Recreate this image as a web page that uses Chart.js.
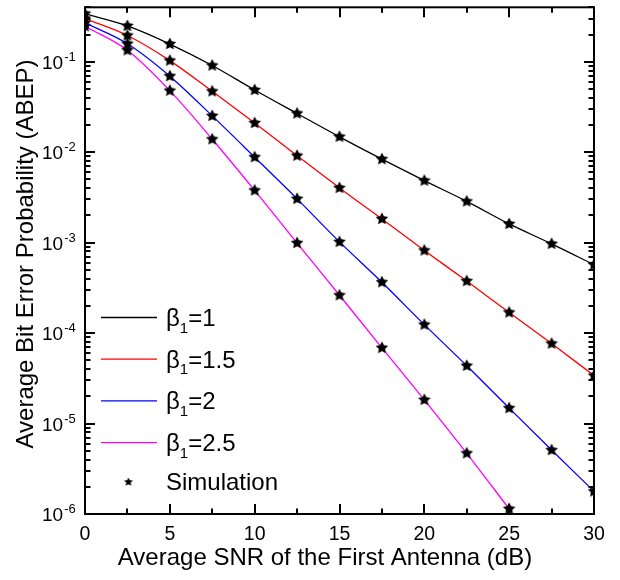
<!DOCTYPE html>
<html>
<head>
<meta charset="utf-8">
<script src="https://cdn.jsdelivr.net/npm/chart.js@4/dist/chart.umd.min.js"></script>
<style>
  html, body { margin: 0; padding: 0; background: #fff; }
  #wrap { width: 620px; height: 580px; position: relative; }
</style>
</head>
<body>
<div id="wrap"><canvas id="abep-chart"></canvas></div>
<script>
// SNR sweep (dB) and ABEP for each beta_1
const snrDb = [0, 2.5, 5, 7.5, 10, 12.5, 15, 17.5, 20, 22.5, 25, 27.5, 30];
const abepBeta1 = [0.34, 0.249, 0.157, 0.0909, 0.0487, 0.0268, 0.0148, 0.00838, 0.00485, 0.00286, 0.00161, 0.00097, 0.00057];
const abepBeta15 = [0.30, 0.195, 0.103, 0.0471, 0.0210, 0.00915, 0.00403, 0.00183, 0.00082, 0.000376, 0.000169, 0.0000766, 0.0000339];
const abepBeta2 = [0.269, 0.158, 0.0693, 0.0252, 0.00881, 0.00305, 0.00102, 0.000365, 0.000124, 0.0000435, 0.0000148, 0.00000509, 0.00000178];
const abepBeta25 = [0.247, 0.134, 0.0479, 0.0139, 0.00378, 0.00099, 0.000262, 0.0000687, 0.0000183, 0.00000469, 0.00000114];

const betaLabels = ["1", "1.5", "2", "2.5"];
const seriesColors = ["#000000", "#ff0000", "#0000ff", "#ff00ff"];
const xTickValues = [0, 5, 10, 15, 20, 25, 30];
const yDecades = [-6, -5, -4, -3, -2, -1];

const FONT = '"Liberation Sans", Arial, Helvetica, sans-serif';

function makeStar(r) {
    const c = document.createElement("canvas");
    const s = Math.ceil(r * 2 + 2);
    c.width = s;
    c.height = s;
    const g = c.getContext("2d");
    g.translate(s / 2, s / 2);
    g.beginPath();
    for (let i = 0; i < 10; i++) {
        const rad = i % 2 ? r * 0.5 : r;
        const a = -Math.PI / 2 + i * Math.PI / 5;
        g.lineTo(rad * Math.cos(a), rad * Math.sin(a));
    }
    g.closePath();
    g.fillStyle = "#000";
    g.fill();
    return c;
}

const starBig = makeStar(6.6);
const starSmall = makeStar(4.6);

function toPoints(ys) {
    return ys.map((y, i) => ({ x: snrDb[i], y }));
}

const allSeries = [abepBeta1, abepBeta15, abepBeta2, abepBeta25];

const datasets = allSeries.map((ys, i) => ({
    label: "beta1=" + betaLabels[i],
    data: toPoints(ys),
    borderColor: seriesColors[i],
    backgroundColor: seriesColors[i],
    borderWidth: 1.3,
    cubicInterpolationMode: "monotone",
    pointStyle: starBig,
    pointRadius: 6,
    clip: 0,
}));

// frame, inward ticks, tick labels, axis titles and legend
const axesPlugin = {
    id: "axesFrame",
    afterDraw(chart) {
        const ctx = chart.ctx;
        const area = chart.chartArea;
        const xs = chart.scales.x;
        const ys = chart.scales.y;
        ctx.save();
        ctx.strokeStyle = "#000";
        ctx.fillStyle = "#000";

        // ticks
        ctx.lineWidth = 2;
        ctx.beginPath();
        for (let v = 0; v <= 30; v += 2.5) {
            const px = Math.round(xs.getPixelForValue(v));
            const len = v % 5 === 0 ? 10 : 5.5;
            ctx.moveTo(px, area.bottom);
            ctx.lineTo(px, area.bottom - len);
            ctx.moveTo(px, area.top);
            ctx.lineTo(px, area.top + len);
        }
        for (let e = -6; e <= -1; e++) {
            for (let k = 1; k <= 9; k++) {
                const v = k * Math.pow(10, e);
                if (v > ys.max) continue;
                const py = Math.round(ys.getPixelForValue(v));
                const len = k === 1 ? 10 : 5.5;
                ctx.moveTo(area.left, py);
                ctx.lineTo(area.left + len, py);
                ctx.moveTo(area.right, py);
                ctx.lineTo(area.right - len, py);
            }
        }
        ctx.stroke();

        // frame
        ctx.lineWidth = 2;
        ctx.strokeRect(area.left, area.top, area.right - area.left, area.bottom - area.top);

        // x tick labels
        ctx.font = "19.5px " + FONT;
        ctx.textAlign = "center";
        ctx.textBaseline = "alphabetic";
        xTickValues.forEach((v) => {
            ctx.fillText(String(v), xs.getPixelForValue(v), 540);
        });

        // y tick labels 10^n
        ctx.textAlign = "left";
        yDecades.forEach((e) => {
            const py = ys.getPixelForValue(Math.pow(10, e));
            ctx.font = "19px " + FONT;
            ctx.fillText("10", 42, py + 7);
            const w = ctx.measureText("10").width;
            ctx.font = "13px " + FONT;
            ctx.fillText(String(e), 42 + w + 1, py - 1);
        });

        // axis titles
        ctx.font = "24px " + FONT;
        ctx.textAlign = "center";
        ctx.fillText("Average SNR of the First Antenna (dB)", 325, 565);
        ctx.save();
        ctx.translate(33, 254);
        ctx.rotate(-Math.PI / 2);
        ctx.fillText("Average Bit Error Probability (ABEP)", 0, 0);
        ctx.restore();

        // legend
        ctx.textAlign = "left";
        chart.data.datasets.forEach((ds, i) => {
            const ly = 317.5 + i * 41.7;
            ctx.strokeStyle = ds.borderColor;
            ctx.lineWidth = 1.3;
            ctx.beginPath();
            ctx.moveTo(101, ly);
            ctx.lineTo(157, ly);
            ctx.stroke();
            ctx.font = "24px " + FONT;
            ctx.fillText("\u03b2", 166, ly + 8.5);
            let tx = 166 + ctx.measureText("\u03b2").width;
            ctx.font = "15px " + FONT;
            ctx.fillText("1", tx, ly + 15);
            tx += ctx.measureText("1").width;
            ctx.font = "24px " + FONT;
            ctx.fillText("=" + betaLabels[i], tx, ly + 8.5);
        });
        ctx.drawImage(starSmall, 128.5 - starSmall.width / 2, 482 - starSmall.height / 2);
        ctx.font = "24px " + FONT;
        ctx.fillText("Simulation", 166, 490);

        ctx.restore();
    },
};

new Chart(document.getElementById("abep-chart"), {
    type: "line",
    data: { datasets },
    options: {
        responsive: true,
        maintainAspectRatio: false,
        animation: false,
        events: [],
        layout: { padding: { left: 85, top: 4, right: 26, bottom: 66 } },
        plugins: { legend: { display: false }, tooltip: { enabled: false } },
        scales: {
            x: { type: "linear", min: 0, max: 30, display: false },
            y: { type: "logarithmic", min: 1e-6, max: 0.4, display: false },
        },
    },
    plugins: [axesPlugin],
});
</script>
</body>
</html>
